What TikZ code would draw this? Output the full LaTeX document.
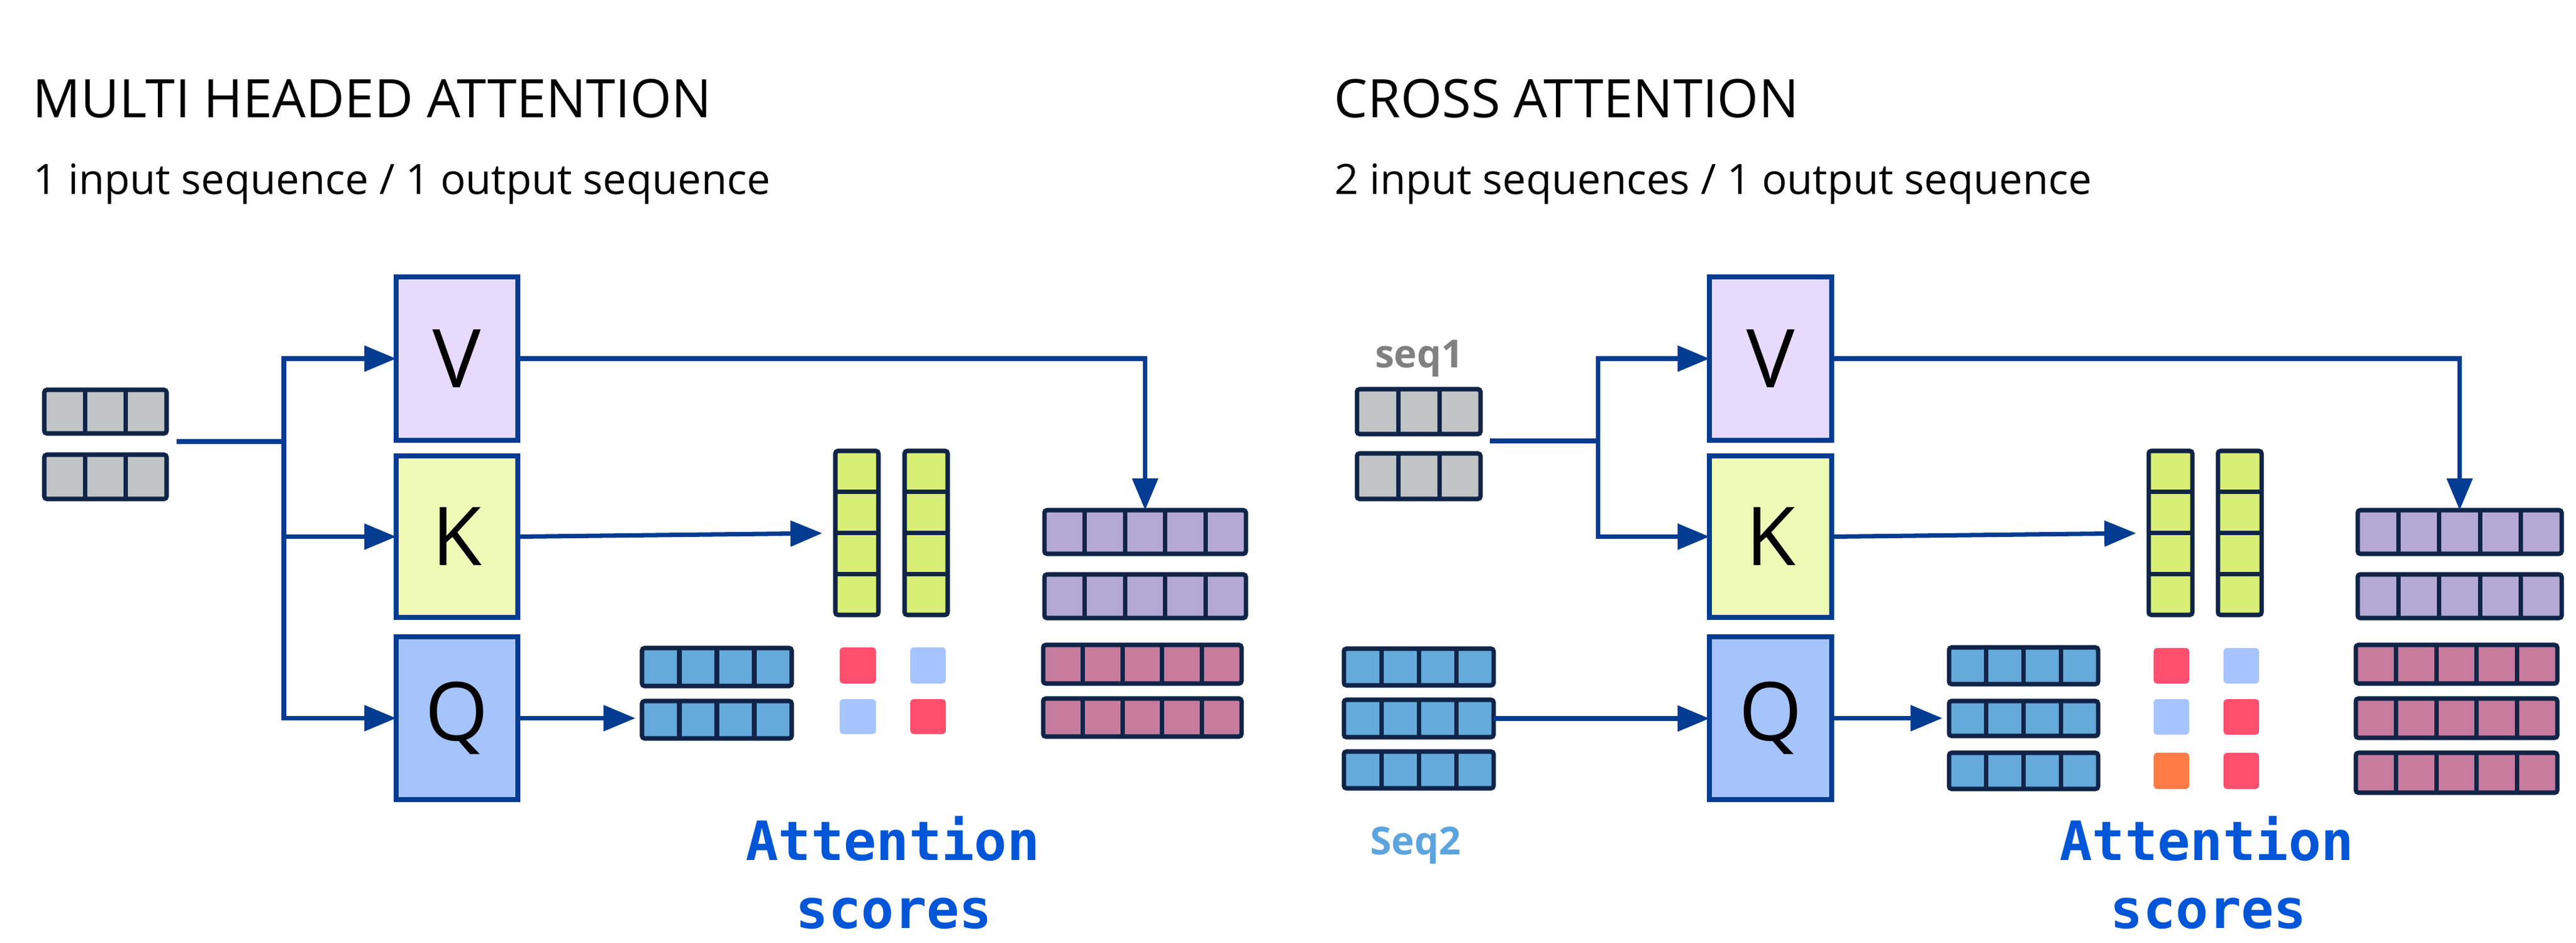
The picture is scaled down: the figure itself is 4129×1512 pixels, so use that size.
\documentclass[tikz,border=0pt]{standalone}
\usepackage{fontspec}
\setmainfont{Open Sans}
\newfontfamily\monofam{DejaVu Sans Mono}
\usetikzlibrary{arrows.meta,calc,fit}

\definecolor{lineblue}{RGB}{4,60,145}
\definecolor{cellnavy}{RGB}{16,36,72}
\definecolor{greycell}{RGB}{192,196,197}
\definecolor{bluecell}{RGB}{100,170,219}
\definecolor{yellowcell}{RGB}{216,238,116}
\definecolor{purplecell}{RGB}{180,169,213}
\definecolor{pinkcell}{RGB}{199,124,158}
\definecolor{vfill}{RGB}{231,218,252}
\definecolor{kfill}{RGB}{238,250,182}
\definecolor{qfill}{RGB}{166,196,252}
\definecolor{scorered}{RGB}{255,79,110}
\definecolor{scorelb}{RGB}{166,196,255}
\definecolor{scoreor}{RGB}{255,123,69}
\definecolor{attnblue}{RGB}{0,86,214}
\definecolor{seqgrey}{RGB}{128,128,128}
\definecolor{seqblue}{RGB}{92,164,222}

\tikzset{
  cellbox/.style={draw=cellnavy, line width=2pt, rounded corners=1.2pt, inner sep=0pt, outer sep=0pt},
  cellline/.style={draw=cellnavy, line width=2pt},
  qkvbox/.style={draw=lineblue, line width=2.4pt, inner sep=0pt, outer sep=0pt},
  qkvletter/.style={inner sep=0pt, font=\fontsize{37pt}{40pt}\selectfont},
  wire/.style={draw=lineblue, line width=2pt},
  conn/.style={wire, -{Triangle[length=14.5pt,width=11.5pt]}},
  score/.style={inner sep=0pt, outer sep=0pt, rounded corners=1.5pt},
  titletext/.style={anchor=base west, inner sep=0pt, font=\fontsize{24.2pt}{29pt}\selectfont},
  subtext/.style={anchor=base west, inner sep=0pt, font=\fontsize{19.06pt}{23pt}\selectfont},
  seqlabel/.style={anchor=base, inner sep=0pt, font=\fontsize{17.6pt}{21pt}\selectfont\bfseries},
  attntext/.style={anchor=base, inner sep=0pt, text=attnblue,
    font=\fontsize{24.75pt}{30pt}\selectfont\monofam\bfseries}
}

% horizontal row of cells: name, x1, y1, x2, y2, n, colour
\newcommand\hrow[7]{%
  \node[cellbox, fill=#7, fit={(#2,#3) (#4,#5)}] (#1) {};
  \pgfmathtruncatemacro\nm{#6-1}%
  \foreach \k in {1,...,\nm}{%
    \draw[cellline] ($(#1.north west)!{\k/#6}!(#1.north east)$) -- ($(#1.south west)!{\k/#6}!(#1.south east)$);
  }%
}
% vertical column of cells
\newcommand\vcol[7]{%
  \node[cellbox, fill=#7, fit={(#2,#3) (#4,#5)}] (#1) {};
  \pgfmathtruncatemacro\nm{#6-1}%
  \foreach \k in {1,...,\nm}{%
    \draw[cellline] ($(#1.north west)!{\k/#6}!(#1.south west)$) -- ($(#1.north east)!{\k/#6}!(#1.south east)$);
  }%
}

\begin{document}
\begin{tikzpicture}[x=0.01cm, y=-0.01cm]
\fill[white] (0,0) rectangle (4129,1512);
\path[use as bounding box] (0,0) rectangle (4129,1512);

% ================= LEFT PANEL =================
\node[titletext] (tL) at (52,188) {MULTI HEADED ATTENTION};
\node[subtext] (sL) at (53,311) {1 input sequence / 1 output sequence};

\hrow{inA}{71}{625}{267}{695}{3}{greycell}
\hrow{inB}{71}{729}{267}{800}{3}{greycell}

\node[qkvbox, fill=vfill, fit={(635,444) (830,706)}, label={[qkvletter]center:V}] (VL) {};
\node[qkvbox, fill=kfill, fit={(635,731) (830,990)}, label={[qkvletter]center:K}] (KL) {};
\node[qkvbox, fill=qfill, fit={(635,1021) (830,1282)}, label={[qkvletter]center:Q}] (QL) {};

\coordinate (inL) at (283,708);
\coordinate (brL) at (455,708);
\draw[wire] (inL) -- (brL);
\draw[conn] (brL) |- (VL.west);
\draw[conn] (brL) |- (KL.west);
\draw[conn] (brL) |- (QL.west);

\vcol{YA}{1339}{723}{1408}{986}{4}{yellowcell}
\vcol{YB}{1450}{723}{1519}{986}{4}{yellowcell}
\coordinate (ktL) at (1318,855);
\draw[conn] (KL.east) -- (ktL);

\hrow{QA1}{1029}{1039}{1269}{1100}{4}{bluecell}
\hrow{QA2}{1029}{1124}{1269}{1184}{4}{bluecell}
\draw[conn, shorten >=3pt] (QL.east) -- (QL.east -| QA2.west);

\node[score, fill=scorered, fit={(1346,1038) (1404,1096)}] (sa11) {};
\node[score, fill=scorelb,  fit={(1459,1038) (1516,1096)}] (sa12) {};
\node[score, fill=scorelb,  fit={(1346,1121) (1404,1177)}] (sa21) {};
\node[score, fill=scorered, fit={(1459,1121) (1516,1177)}] (sa22) {};

\hrow{PA1}{1674}{818}{1997}{888}{5}{purplecell}
\hrow{PA2}{1674}{921}{1997}{991}{5}{purplecell}
\hrow{KA1}{1672}{1034}{1990}{1096}{5}{pinkcell}
\hrow{KA2}{1672}{1120}{1990}{1181}{5}{pinkcell}
\draw[conn] (VL.east) -| (PA1.north);

\node[attntext] (atL) at (1431,1379) {Attention};
\node[attntext] (scL) at (1433,1488) {scores};

% ================= RIGHT PANEL =================
\node[titletext] (tR) at (2138,188) {CROSS ATTENTION};
\node[subtext] (sR) at (2139,311) {2 input sequences / 1 output sequence};

\node[seqlabel, text=seqgrey] (seq1) at (2275,589) {seq1};
\hrow{inC}{2175}{624}{2373}{696}{3}{greycell}
\hrow{inD}{2175}{727}{2373}{800}{3}{greycell}

\node[qkvbox, fill=vfill, fit={(2740,444) (2936,706)}, label={[qkvletter]center:V}] (VR) {};
\node[qkvbox, fill=kfill, fit={(2740,731) (2936,990)}, label={[qkvletter]center:K}] (KR) {};
\node[qkvbox, fill=qfill, fit={(2740,1021) (2936,1282)}, label={[qkvletter]center:Q}] (QR) {};

\coordinate (inR) at (2388,707);
\coordinate (brR) at (2561,707);
\draw[wire] (inR) -- (brR);
\draw[conn] (brR) |- (VR.west);
\draw[conn] (brR) |- (KR.west);

\hrow{SQ1}{2154}{1040}{2394}{1099}{4}{bluecell}
\hrow{SQ2}{2154}{1122}{2394}{1182}{4}{bluecell}
\hrow{SQ3}{2154}{1205}{2394}{1264}{4}{bluecell}
\node[seqlabel, text=seqblue] (seq2) at (2269,1370) {Seq2};
\draw[conn] (SQ2.east) -- (SQ2.east -| QR.west);

\vcol{YC}{3444}{723}{3514}{986}{4}{yellowcell}
\vcol{YD}{3555}{723}{3625}{986}{4}{yellowcell}
\coordinate (ktR) at (3424,855);
\draw[conn] (KR.east) -- (ktR);

\hrow{QB1}{3124}{1038}{3363}{1097}{4}{bluecell}
\hrow{QB2}{3124}{1124}{3363}{1180}{4}{bluecell}
\hrow{QB3}{3124}{1207}{3363}{1265}{4}{bluecell}
\draw[conn, shorten >=3pt] (QR.east) -- (QR.east -| QB2.west);

\node[score, fill=scorered, fit={(3452,1039) (3509,1096)}] (sb11) {};
\node[score, fill=scorelb,  fit={(3564,1039) (3621,1096)}] (sb12) {};
\node[score, fill=scorelb,  fit={(3452,1121) (3509,1178)}] (sb21) {};
\node[score, fill=scorered, fit={(3564,1121) (3621,1178)}] (sb22) {};
\node[score, fill=scoreor,  fit={(3452,1207) (3509,1265)}] (sb31) {};
\node[score, fill=scorered, fit={(3564,1207) (3621,1265)}] (sb32) {};

\hrow{PB1}{3779}{818}{4106}{888}{5}{purplecell}
\hrow{PB2}{3779}{921}{4106}{991}{5}{purplecell}
\hrow{KB1}{3776}{1034}{4099}{1096}{5}{pinkcell}
\hrow{KB2}{3776}{1120}{4099}{1183}{5}{pinkcell}
\hrow{KB3}{3776}{1207}{4099}{1271}{5}{pinkcell}
\draw[conn] (VR.east) -| (PB1.north);

\node[attntext] (atR) at (3537,1379) {Attention};
\node[attntext] (scR) at (3540,1488) {scores};
\end{tikzpicture}
\end{document}
